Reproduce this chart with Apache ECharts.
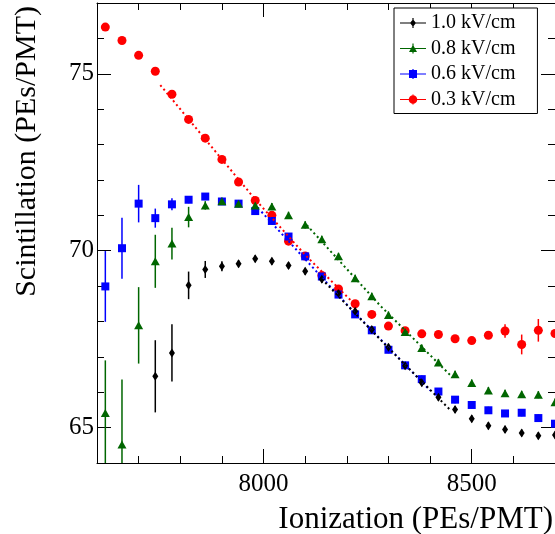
<!DOCTYPE html>
<html><head><meta charset="utf-8">
<script src="https://cdn.jsdelivr.net/npm/echarts@6/dist/echarts.min.js"></script>
<style>html,body{margin:0;padding:0;background:#fff}#c{width:555px;height:534px}</style>
</head><body><div id="c"></div>
<script>
// ---- data ----
const ionization = [7620,7660,7700,7740,7780,7820,7860,7900,7940,7980,8020,8060,8100,8140,8180,8220,8260,8300,8340,8380,8420,8460,8500,8540,8580,8620,8660,8700];

const scint10 = [null,null,null,66.45,67.11,69.02,69.47,69.56,69.63,69.77,69.70,69.58,69.42,69.19,68.80,68.29,67.77,67.27,66.75,66.27,65.86,65.51,65.25,65.05,64.95,64.85,64.77,64.79];
const err10   = [null,null,null,1.02,0.81,0.39,0.24,0.14,0.1,0.1,0.1,0.1,0.1,0.1,0.1,0.1,0.1,0.1,0.1,0.1,0.1,0.1,0.1,0.1,0.1,0.1,0.1,0.1];

const scint08 = [65.41,64.52,67.89,69.70,70.20,70.95,71.28,71.40,71.33,71.28,71.25,71.00,70.73,70.32,69.84,69.22,68.71,68.18,67.70,67.25,66.84,66.51,66.26,66.05,65.97,65.94,65.93,65.72];
const err08   = [1.49,1.84,1.08,0.75,0.45,0.29,0.12,0.1,0.1,0.1,0.1,0.1,0.1,0.1,0.1,0.1,0.1,0.1,0.1,0.1,0.1,0.1,0.1,0.1,0.1,0.1,0.1,0.1];

const scint06 = [68.99,70.07,71.33,70.92,71.31,71.44,71.53,71.39,71.33,71.12,70.84,70.40,69.84,69.27,68.76,68.20,67.75,67.20,66.76,66.37,66.02,65.79,65.64,65.49,65.40,65.42,65.27,65.11];
const err06   = [1.0,0.86,0.53,0.27,0.17,0.1,0.1,0.1,0.1,0.1,0.1,0.1,0.1,0.1,0.1,0.1,0.1,0.1,0.1,0.1,0.1,0.1,0.1,0.1,0.1,0.1,0.1,0.1];

const scint03 = [76.32,75.94,75.52,75.07,74.42,73.71,73.18,72.58,71.94,71.42,71.00,70.27,69.85,69.30,68.92,68.50,68.20,67.87,67.74,67.65,67.63,67.51,67.46,67.61,67.73,67.35,67.75,67.66];
const err03   = [0.06,0.06,0.06,0.06,0.06,0.06,0.06,0.06,0.06,0.06,0.06,0.06,0.06,0.06,0.06,0.06,0.06,0.06,0.06,0.06,0.06,0.06,0.08,0.1,0.19,0.28,0.32,0.1];

// fitted (dotted) lines
const fit03 = [[7752,74.68],[7860,73.15],[7980,71.45],[8100,69.88],[8222,68.45]];
const fit06 = [[7995,71.10],[8200,68.48],[8400,66.05]];
const fit08 = [[8104,70.72],[8280,68.45],[8453,66.43]];
const fit10 = [[8140,69.20],[8300,67.25],[8450,65.48]];

const seriesNames = ['1.0 kV/cm','0.8 kV/cm','0.6 kV/cm','0.3 kV/cm'];

// axis ticks
const xMajorTicks = [8000, 8500];
const xMinorTicks = [7600,7700,7800,7900,8100,8200,8300,8400,8600,8700];
const yMajorTicks = [65, 70, 75];
const yMinorTicks = [64,66,67,68,69,71,72,73,74,76,77];

const xTitle = 'Ionization (PEs/PMT)';
const yTitle = 'Scintillation (PEs/PMT)';

// ---- build ----
const FONT = 'Liberation Serif';
function pts(v, e) {
  return ionization.map((x, i) => v[i] == null ? null : [x, v[i], e[i]]).filter(Boolean);
}
function errSeries(v, e, color) {
  return {
    type: 'custom', silent: true, clip: true, xAxisIndex: 0, yAxisIndex: 0,
    data: pts(v, e), encode: {x: 0, y: 1},
    renderItem: function (params, api) {
      const x = api.value(0), y = api.value(1), d = api.value(2);
      const a = api.coord([x, y + d]), b = api.coord([x, y - d]);
      return {type: 'line', shape: {x1: a[0], y1: a[1], x2: b[0], y2: b[1]},
              style: {stroke: color, lineWidth: 1.5}};
    }
  };
}
function markSeries(name, v, e, color, symbol, size) {
  return {
    name: name, type: 'scatter', clip: false, silent: true, xAxisIndex: 0, yAxisIndex: 0,
    symbol: symbol, symbolSize: size, itemStyle: {color: color, opacity: 1},
    data: pts(v, e).map(p => [p[0], p[1]])
  };
}
function fitSeries(data, color) {
  return {
    type: 'line', silent: true, showSymbol: false, symbol: 'none', xAxisIndex: 0, yAxisIndex: 0,
    data: data, lineStyle: {color: color, width: 2, type: [2, 3]}, z: 3
  };
}
const plain = v => String(v);
function xAx(pos, ticks, len, labels, line) {
  return {
    type: 'value', min: 7600, max: 8700, position: pos,
    axisLine: {show: line, onZero: false, lineStyle: {color: '#000', width: 1}},
    axisTick: {show: true, inside: true, length: len, customValues: ticks, lineStyle: {color: '#000', width: 1}},
    axisLabel: {show: labels, customValues: ticks, formatter: plain, fontFamily: FONT, fontSize: 25, color: '#000', margin: 9},
    splitLine: {show: false}
  };
}
function yAx(pos, ticks, len, labels, line) {
  return {
    type: 'value', min: 64, max: 77, position: pos,
    axisLine: {show: line, onZero: false, lineStyle: {color: '#000', width: 1}},
    axisTick: {show: true, inside: true, length: len, customValues: ticks, lineStyle: {color: '#000', width: 1}},
    axisLabel: {show: labels, customValues: ticks, formatter: plain, fontFamily: FONT, fontSize: 25, color: '#000', margin: 3},
    splitLine: {show: false}
  };
}

const cBlack = '#000000', cGreen = '#006600', cBlue = '#0000ff', cRed = '#ff0000';

const iconBar = 'M0 4.4 L26 4.4 L26 5.6 L0 5.6 Z M12.4 0 L13.6 0 L13.6 10 L12.4 10 Z ';
const icons = [
  'path://' + iconBar + 'M13 1.2 L16 5 L13 8.8 L10 5 Z',
  'path://' + iconBar + 'M13 1.2 L17 8.5 L9 8.5 Z',
  'path://' + iconBar + 'M9 1 L17 1 L17 9 L9 9 Z',
  'path://' + iconBar + 'M8.7 5 A4.3 4.3 0 1 1 17.3 5 A4.3 4.3 0 1 1 8.7 5 Z'
];

const chart = echarts.init(document.getElementById('c'), null, {renderer: 'canvas'});
chart.setOption({
  backgroundColor: '#fff',
  animation: false,
  grid: {left: 97, right: 0, top: 3, bottom: 71, containLabel: false},
  xAxis: [
    xAx('bottom', xMajorTicks, 14, true, true),
    xAx('bottom', xMinorTicks, 7, false, false),
    xAx('top', xMajorTicks, 14, false, true),
    xAx('top', xMinorTicks, 7, false, false)
  ],
  yAxis: [
    yAx('left', yMajorTicks, 14, true, true),
    yAx('left', yMinorTicks, 7, false, false),
    yAx('right', yMajorTicks, 14, false, true),
    yAx('right', yMinorTicks, 7, false, false)
  ],
  legend: {
    orient: 'vertical', left: 394, top: 8,
    padding: [5, 22, 4, 6], itemGap: 5.5, itemWidth: 26, itemHeight: 10,
    borderColor: '#000', borderWidth: 1, backgroundColor: '#fff',
    textStyle: {fontFamily: FONT, fontSize: 20, color: '#000', lineHeight: 20},
    selectedMode: false,
    data: seriesNames.map((n, i) => ({name: n, icon: icons[i]}))
  },
  graphic: [
    {type: 'text', x: 553, y: 520, style: {text: xTitle, font: '31px "Liberation Serif"', fill: '#000', align: 'right', verticalAlign: 'middle'}},
    {type: 'text', x: 27, y: 6, rotation: Math.PI / 2, style: {text: yTitle, font: '30px "Liberation Serif"', fill: '#000', align: 'right', verticalAlign: 'middle'}}
  ],
  series: [
    errSeries(scint03, err03, cRed),
    markSeries(seriesNames[3], scint03, err03, cRed, 'circle', 9),
    fitSeries(fit03, cRed),
    errSeries(scint06, err06, cBlue),
    markSeries(seriesNames[2], scint06, err06, cBlue, 'rect', 8),
    fitSeries(fit06, cBlue),
    errSeries(scint08, err08, cGreen),
    markSeries(seriesNames[1], scint08, err08, cGreen, 'triangle', [9, 8]),
    fitSeries(fit08, cGreen),
    errSeries(scint10, err10, cBlack),
    markSeries(seriesNames[0], scint10, err10, cBlack, 'diamond', [6, 9]),
    fitSeries(fit10, cBlack)
  ]
});
</script></body></html>
